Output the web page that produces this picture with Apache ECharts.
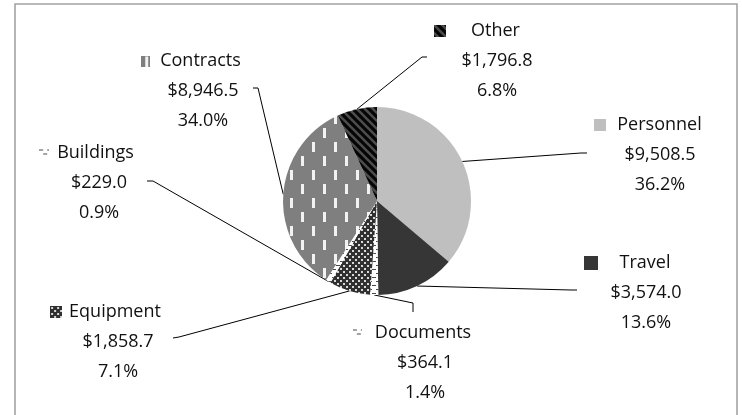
<!DOCTYPE html>
<html>
<head>
<meta charset="utf-8">
<script src="https://cdn.jsdelivr.net/npm/echarts@6/dist/echarts.min.js"></script>
<style>
  html, body { margin: 0; padding: 0; background: #fff; }
  #chart { width: 742px; height: 415px; }
</style>
</head>
<body>
<div id="chart"></div>
<script>
// Spending by category (dollars, thousands)
const categories = ['Personnel', 'Travel', 'Documents', 'Equipment', 'Buildings', 'Contracts', 'Other'];
const amounts = [9508.5, 3574.0, 364.1, 1858.7, 229.0, 8946.5, 1796.8];

const FONT = '"Open Sans", "Noto Sans", sans-serif';

// ---- fill patterns -------------------------------------------------------
function makeTile(w, h, draw) {
  const c = document.createElement('canvas');
  c.width = w; c.height = h;
  draw(c.getContext('2d'), w, h);
  return c;
}
const tiles = {
  light: makeTile(4, 4, g => { g.fillStyle = '#bfbfbf'; g.fillRect(0, 0, 4, 4); }),
  dark: makeTile(4, 4, g => { g.fillStyle = '#363636'; g.fillRect(0, 0, 4, 4); }),
  dashes: makeTile(8, 8, g => {
    g.fillStyle = '#ffffff'; g.fillRect(0, 0, 8, 8);
    g.fillStyle = '#4a4a4a';
    g.fillRect(0, 1, 4, 1);
    g.fillRect(4, 5, 4, 1);
  }),
  dots: makeTile(6, 6, g => {
    g.fillStyle = '#303030'; g.fillRect(0, 0, 6, 6);
    g.fillStyle = '#d8d8d8';
    g.fillRect(1, 1, 2, 2);
    g.fillRect(4, 4, 2, 2);
  }),
  vdash: makeTile(22, 28, g => {
    g.fillStyle = '#7f7f7f'; g.fillRect(0, 0, 22, 28);
    g.fillStyle = '#f2f2f2';
    g.fillRect(4, 2, 3, 10);
    g.fillRect(15, 16, 3, 10);
  }),
  stripes: makeTile(8, 8, g => {
    g.fillStyle = '#050505'; g.fillRect(0, 0, 8, 8);
    g.strokeStyle = '#4c4c4c'; g.lineWidth = 2.6;
    g.beginPath();
    g.moveTo(-2, -2); g.lineTo(10, 10);
    g.moveTo(6, -2); g.lineTo(10, 2);
    g.moveTo(-2, 6); g.lineTo(2, 10);
    g.stroke();
  })
};

// which fill each category uses, and its legend key size
const sliceFill = ['light', 'dark', 'dashes', 'dots', 'dashes', 'vdash', 'stripes'];
const keySize = [[12, 12], [14, 14], [9, 9], [12, 12], [10, 9], [9, 11], [12, 12]];

function makeKey(name, w, h, ox, oy) {
  return makeTile(w, h, g => {
    const p = g.createPattern(tiles[name], 'repeat');
    g.translate(-ox, -oy);
    g.fillStyle = p;
    g.fillRect(ox, oy, w, h);
  });
}
const keyOffsets = [[0, 0], [0, 0], [0, 0], [0, 0], [0, 0], [0, 1], [0, 0]];
const keys = sliceFill.map((f, i) => makeKey(f, keySize[i][0], keySize[i][1], keyOffsets[i][0], keyOffsets[i][1]));

// ---- label placement (label centre, leader end + elbow, key gap, balance pad)
const labelSpots = [
  { at: [660, 155], end: [587, 153], elbow: [581, 153], gap: 11, pad: 24 },
  { at: [646, 293], end: [577, 290], elbow: [571, 290], gap: 22, pad: 38 },
  { at: [425, 363], end: [413, 312], elbow: [413, 303], gap: 13, pad: 26 },
  { at: [118, 342], end: [173, 338], elbow: [179, 337], gap: 7,  pad: 25 },
  { at: [99, 183],  end: [147, 181], elbow: [153, 181], gap: 8,  pad: 25 },
  { at: [203, 91],  end: [253, 88],  elbow: [258, 88],  gap: 10, pad: 24 },
  { at: [497, 61],  end: [427, 57],  elbow: [422, 57],  gap: 25, pad: 40 }
];

const total = amounts.reduce((a, b) => a + b, 0);
const money = v => '$' + v.toLocaleString('en-US', { minimumFractionDigits: 1, maximumFractionDigits: 1 });

const rich = {
  n: { fontFamily: FONT, fontSize: 18, color: '#111', lineHeight: 30 },
  v: { fontFamily: FONT, fontSize: 18, color: '#111', lineHeight: 30, align: 'center' }
};
keys.forEach((k, i) => {
  rich['k' + i] = { width: keySize[i][0], height: keySize[i][1], backgroundColor: { image: k } };
  rich['g' + i] = { width: labelSpots[i].gap, height: 1 };
  rich['p' + i] = { width: labelSpots[i].pad, height: 1 };
});

const seriesData = categories.map((name, i) => ({
  name: name,
  value: amounts[i],
  itemStyle: { color: { image: tiles[sliceFill[i]], repeat: 'repeat' } }
}));

const chart = echarts.init(document.getElementById('chart'), null, { renderer: 'canvas' });
chart.setOption({
  animation: false,
  backgroundColor: '#ffffff',
  graphic: [{
    type: 'rect',
    silent: true,
    shape: { x: 15, y: 4, width: 722, height: 430 },
    style: { fill: 'none', stroke: '#a3a3a3', lineWidth: 1.6 }
  }],
  series: [{
    type: 'pie',
    silent: true,
    center: [377, 201],
    radius: 94,
    startAngle: 90,
    clockwise: true,
    avoidLabelOverlap: false,
    itemStyle: { borderWidth: 0 },
    label: {
      show: true,
      position: 'outside',
      align: 'center',
      formatter: p => {
        const i = p.dataIndex;
        const pct = (amounts[i] / total * 100).toFixed(1) + '%';
        return `{k${i}|}{g${i}|}{n|${p.name}}{p${i}|}\n{v|${money(amounts[i])}}\n{v|${pct}}`;
      },
      rich: rich
    },
    labelLine: { show: true, length: 10, length2: 10, lineStyle: { color: '#000', width: 1 } },
    labelLayout: params => {
      const s = labelSpots[params.dataIndex];
      const start = params.labelLinePoints ? params.labelLinePoints[0] : s.elbow;
      return {
        x: s.at[0],
        y: s.at[1],
        align: 'center',
        verticalAlign: 'middle',
        labelLinePoints: [start, s.elbow, s.end]
      };
    },
    data: seriesData
  }]
});
</script>
</body>
</html>
